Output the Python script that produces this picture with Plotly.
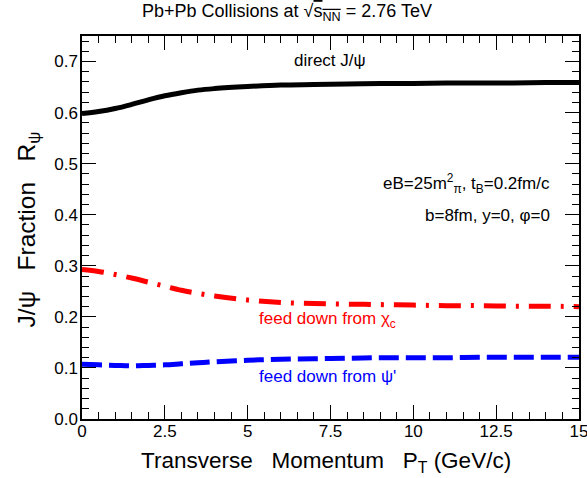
import plotly.graph_objects as go

pt = [0, 0.5, 1, 1.5, 2, 2.5, 3, 3.5, 4, 5, 6, 7, 8, 9, 10, 11, 12, 13, 14, 15]
direct = [0.598, 0.602, 0.608, 0.616, 0.625, 0.633, 0.639, 0.644, 0.647, 0.651,
          0.654, 0.655, 0.656, 0.657, 0.657, 0.658, 0.658, 0.658, 0.659, 0.659]
chi_c = [0.293, 0.289, 0.283, 0.276, 0.268, 0.260, 0.252, 0.246, 0.241, 0.233,
         0.228, 0.226, 0.225, 0.224, 0.223, 0.222, 0.222, 0.221, 0.221, 0.220]
psi_p = [0.107, 0.106, 0.105, 0.104, 0.105, 0.106, 0.108, 0.110, 0.112, 0.115,
         0.117, 0.118, 0.119, 0.120, 0.120, 0.120, 0.121, 0.121, 0.121, 0.121]

FONT = "Liberation Sans, Arial, Helvetica, sans-serif"
NB = "\u00a0"

fig = go.Figure()
fig.add_trace(go.Scatter(x=pt, y=direct, mode="lines", line=dict(color="black", width=5, shape="spline"), showlegend=False))
fig.add_trace(go.Scatter(x=pt, y=chi_c, mode="lines", line=dict(color="#ff0000", width=5, dash="22px,10px,3px,10px", shape="spline"), showlegend=False))
fig.add_trace(go.Scatter(x=pt, y=psi_p, mode="lines", line=dict(color="#0000ff", width=5, dash="20px,7px", shape="spline"), showlegend=False))

axis_common = dict(showline=True, linecolor="black", linewidth=1.5, mirror="ticks",
                   ticks="inside", ticklen=14, tickwidth=1, tickcolor="black",
                   showgrid=False, zeroline=False, automargin=False,
                   ticklabeloverflow="allow",
                   tickfont=dict(family=FONT, size=17, color="black"))

fig.update_xaxes(range=[0, 15], dtick=2.5, tick0=0, ticklabelstandoff=-4,
                 minor=dict(dtick=0.5, ticks="inside", ticklen=7, tickwidth=1, tickcolor="black", showgrid=False),
                 **axis_common)
fig.update_yaxes(range=[0, 0.75], dtick=0.1, tick0=0, tickformat=".1f", ticklabelstandoff=-1,
                 minor=dict(dtick=0.02, ticks="inside", ticklen=7, tickwidth=1, tickcolor="black", showgrid=False),
                 **axis_common)

ann_font = dict(family=FONT, size=17)
fig.update_layout(
    width=587, height=478,
    margin=dict(l=82, r=8, t=36, b=59, autoexpand=False),
    paper_bgcolor="white", plot_bgcolor="white",
    annotations=[
        dict(xref="paper", yref="paper", x=0.4125, y=1.061, xanchor="center", yanchor="middle", showarrow=False,
             text="Pb+Pb Collisions at √<span style='text-decoration:overline'>s<sub>NN</sub></span> = 2.76 TeV",
             font=dict(family=FONT, size=18, color="black")),
        dict(xref="paper", yref="paper", x=0.491, y=-0.111, xanchor="center", yanchor="middle", showarrow=False,
             text=f"Transverse{NB*3}Momentum{NB*3}P<sub>T</sub> (GeV/c)",
             font=dict(family=FONT, size=22.5, color="black")),
        dict(xref="paper", yref="paper", x=-0.1087, y=0.495, xanchor="center", yanchor="middle", showarrow=False,
             textangle=-90,
             text=f"J/ψ{NB*3}Fraction{NB*3}R<sub>ψ</sub>",
             font=dict(family=FONT, size=24.5, color="black")),
        dict(xref="x", yref="y", x=7.49, y=0.702, xanchor="center", yanchor="middle", showarrow=False,
             text="direct J/ψ", font=dict(color="black", **ann_font)),
        dict(xref="x", yref="y", x=14.19, y=0.461, xanchor="right", yanchor="middle", showarrow=False,
             text="eB=25m<sup>2</sup><sub>π</sub>, t<sub>B</sub>=0.2fm/c", font=dict(color="black", **ann_font)),
        dict(xref="x", yref="y", x=14.19, y=0.398, xanchor="right", yanchor="middle", showarrow=False,
             text="b=8fm, y=0, φ=0", font=dict(color="black", **ann_font)),
        dict(xref="x", yref="y", x=5.28, y=0.193, xanchor="left", yanchor="middle", showarrow=False,
             text="feed down from χ<sub>c</sub>", font=dict(color="#ff0000", **ann_font)),
        dict(xref="x", yref="y", x=5.28, y=0.083, xanchor="left", yanchor="middle", showarrow=False,
             text="feed down from ψ'", font=dict(color="#0000ff", **ann_font)),
    ],
)

fig.write_html("out.html", config={"displayModeBar": False},
               post_script="document.body.style.margin='0px';document.body.style.overflow='hidden';")
